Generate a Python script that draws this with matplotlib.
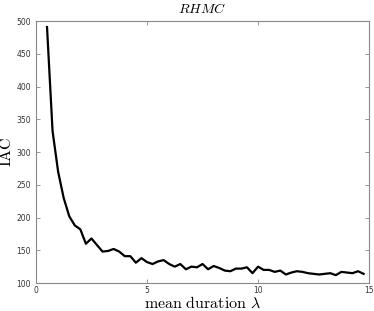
import matplotlib
matplotlib.use("Agg")
import matplotlib.pyplot as plt

plt.rcParams["mathtext.fontset"] = "cm"

# mean duration lambda vs integrated autocorrelation time
durations = [0.5, 0.75, 1.0, 1.25, 1.5, 1.75, 2.0, 2.25, 2.5, 2.75,
             3.0, 3.25, 3.5, 3.75, 4.0, 4.25, 4.5, 4.75, 5.0, 5.25,
             5.5, 5.75, 6.0, 6.25, 6.5, 6.75, 7.0, 7.25, 7.5, 7.75,
             8.0, 8.25, 8.5, 8.75, 9.0, 9.25, 9.5, 9.75, 10.0, 10.25,
             10.5, 10.75, 11.0, 11.25, 11.5, 11.75, 12.0, 12.25, 12.5, 12.75,
             13.0, 13.25, 13.5, 13.75, 14.0, 14.25, 14.5, 14.75]
iac = [491, 332, 270, 230, 202, 188, 182, 160, 168, 158,
       148, 149, 152, 148, 141, 141, 131, 138, 132, 129,
       133, 135, 129, 125, 129, 121, 125, 124, 129, 121,
       126, 123, 119, 118, 122, 122, 124, 115, 125, 120,
       120, 117, 119, 113, 116, 118, 117, 115, 114, 113,
       114, 115, 112, 117, 116, 115, 118, 114]

xticks = [0, 5, 10, 15]
yticks = [100, 150, 200, 250, 300, 350, 400, 450, 500]

fig = plt.figure(figsize=(3.74, 3.11), dpi=100)
ax = fig.add_axes([0.096, 0.09, 0.891, 0.842])

ax.plot(durations, iac, color="black", linewidth=1.6)

ax.set_xlim(0, 15)
ax.set_ylim(100, 500)
ax.set_xticks(xticks)
ax.set_yticks(yticks)
ax.tick_params(direction="in", top=True, right=True, labelsize=5.5,
               labelcolor="#333333", color="#888888", length=3, width=0.6)
ax.tick_params(axis="x", pad=2)
for s in ax.spines.values():
    s.set_color("#888888")
    s.set_linewidth(0.8)

ax.set_xlabel(r"$\mathrm{mean\ duration}\ \lambda$", fontsize=11.5)
ax.xaxis.set_label_coords(0.5, -0.046)
ax.set_ylabel(r"$\mathrm{IAC}$", fontsize=11.5)
ax.yaxis.set_label_coords(-0.066, 0.5)
ax.set_title(r"$RHMC$", fontsize=10, pad=6)

fig.savefig("out.png", dpi=100)
